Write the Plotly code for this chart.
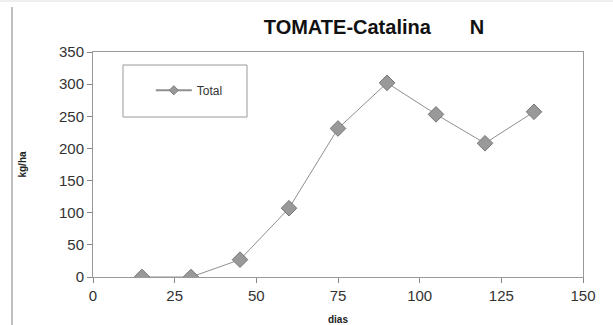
import plotly.graph_objects as go

dias = [15, 30, 45, 60, 75, 90, 105, 120, 135]
total = [0, 0, 27, 107, 231, 302, 253, 208, 257]
x_ticks = [0, 25, 50, 75, 100, 125, 150]
y_ticks = [0, 50, 100, 150, 200, 250, 300, 350]

line_style = dict(color="#8f8f8f", width=1)

fig = go.Figure()
fig.add_trace(go.Scatter(
    x=dias, y=total, mode="lines+markers", name="Total", showlegend=False,
    line=line_style,
    marker=dict(symbol="diamond", size=12, color="#999999",
                line=dict(color="#777777", width=1)),
))
# legend entry with a small symbol
fig.add_trace(go.Scatter(
    x=[None], y=[None], mode="lines+markers", name="Total",
    line=dict(color="#8f8f8f", width=2),
    marker=dict(symbol="diamond", size=7, color="#999999",
                line=dict(color="#777777", width=1)),
))

fig.update_layout(
    width=613, height=325,
    margin=dict(l=93, r=30, t=52, b=48),
    paper_bgcolor="white", plot_bgcolor="white",
    font=dict(family="Liberation Sans, Arial, sans-serif", color="#222"),
    title=dict(text="<b>TOMATE-Catalina&nbsp;&nbsp;&nbsp;&nbsp;&nbsp;&nbsp;&nbsp;N</b>",
               x=(374 - 93) / 490, xref="paper", xanchor="center",
               y=1 - 27 / 325, yanchor="middle",
               font=dict(size=20, color="#111")),
    showlegend=True,
    legend=dict(x=0.118, y=0.83, xanchor="left", yanchor="middle",
                borderwidth=0, bgcolor="rgba(0,0,0,0)",
                font=dict(size=12, color="#333"), itemwidth=36),
    xaxis=dict(range=[0, 150], tickvals=x_ticks, ticks="outside", ticklen=5,
               tickcolor="#888", tickfont=dict(size=15, color="#333"),
               showgrid=False, zeroline=False, showline=True,
               linecolor="#999", linewidth=1, mirror=True, automargin=False,
               title=dict(text="<b>dias</b>", font=dict(size=10), standoff=12)),
    yaxis=dict(range=[0, 350], tickvals=y_ticks, ticks="outside", ticklen=5,
               tickcolor="#888", tickfont=dict(size=15, color="#333"),
               showgrid=False, zeroline=True, zerolinecolor="#777",
               zerolinewidth=3, showline=True, linecolor="#999", linewidth=1,
               mirror=True, automargin=False,
               title=dict(text="<b>kg/ha</b>", font=dict(size=10), standoff=30)),
)

# legend frame
fig.add_shape(type="rect", xref="paper", yref="paper",
              x0=(123 - 93) / 490, x1=(247 - 93) / 490,
              y0=(277 - 117) / 225, y1=(277 - 65) / 225,
              line=dict(color="#9a9a9a", width=1), fillcolor="white", layer="below")

# outer frame lines of the sheet
fig.add_shape(type="line", xref="paper", yref="paper",
              x0=(12 - 93) / 490, x1=(12 - 93) / 490, y0=-0.3, y1=1.2,
              line=dict(color="#aaa", width=1.5))
fig.add_shape(type="line", xref="paper", yref="paper",
              x0=-0.2, x1=1.1, y0=(277 - 1) / 225, y1=(277 - 1) / 225,
              line=dict(color="#ddd", width=1))

fig.write_html("out.html")
